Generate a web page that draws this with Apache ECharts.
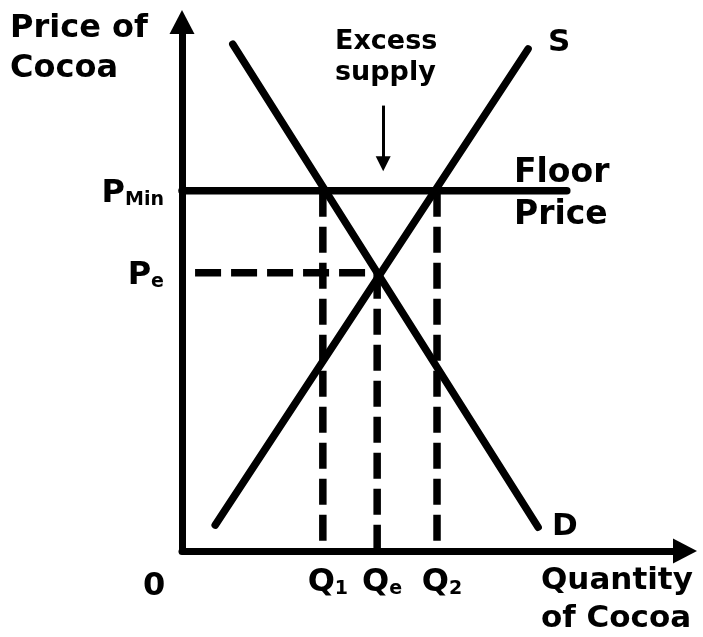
<!DOCTYPE html>
<html>
<head>
<meta charset="utf-8">
<script src="https://cdn.jsdelivr.net/npm/echarts@6/dist/echarts.min.js"></script>
<style>
  html, body { margin: 0; background: #fff; }
  #main { width: 703px; height: 637px; }
</style>
</head>
<body>
<div id="main"></div>
<script>
// values (quantity 0-100, price 0-100)
var demand = [[10.1, 95.8], [70.8, 4.5]]
var supply = [[6.6, 4.9], [68.8, 94.9]]
var pMin = 68.1
var pE = 52.6
var floorEnd = 76.5
var peStart = 2.6
var qValues = [28.0, 38.8, 50.7]
var qTops = [pMin, pE, pMin]
var qNames = ['1', 'e', '2']
var arrowPts = [[40.0, 84.2], [40.0, 73.2]]

var myChart = echarts.init(document.getElementById('main'))
var black = '#000'
var font = 'DejaVu Sans'

var solid = { color: black, width: 7.5, cap: 'round' }
var dashed = { color: black, width: 7.5, type: [26, 10] }

function lineSeries(data, style) {
  return {
    type: 'line',
    data: data,
    symbol: 'none',
    silent: true,
    clip: false,
    lineStyle: style,
  }
}

var series = []
series.push(lineSeries(demand, solid))
series.push(lineSeries(supply, solid))
series.push(lineSeries([[0, pMin], [floorEnd, pMin]], solid))
series.push(lineSeries([[peStart, pE], [qValues[1], pE]], dashed))
for (let i = 0; i < qValues.length; i++) {
  series.push(lineSeries([[qValues[i], qTops[i]], [qValues[i], 0]], dashed))
}

function tok(size, sub) {
  var t = { fontSize: size, fontWeight: 'bold', fontFamily: font, color: black }
  if (sub) t.verticalAlign = 'bottom'
  return t
}
var rich = {
  q: tok(32),
  qs: tok(19, true),
  p: tok(32),
  ps: tok(19, true),
  c: tok(31),
}

var labelData = [
  { value: [0, pMin], label: { position: 'left', distance: 18, offset: [0, 3], formatter: '{p|P}{ps|Min}' } },
  { value: [0, pE], label: { position: 'left', distance: 18, offset: [0, 3], formatter: '{p|P}{ps|e}' } },
  { value: supply[1], label: { position: 'right', distance: 20, offset: [0, -6], formatter: '{c|S}' } },
  { value: demand[1], label: { position: 'right', distance: 14, offset: [0, 0], formatter: '{c|D}' } },
]
for (let i = 0; i < qValues.length; i++) {
  labelData.push({
    value: [qValues[i], 0],
    label: { position: 'bottom', distance: 16, offset: [5, 0], formatter: '{q|Q}{qs|' + qNames[i] + '}' },
  })
}

series.push({
  type: 'scatter',
  symbolSize: 0,
  silent: true,
  clip: false,
  itemStyle: { color: 'transparent', opacity: 1 },
  label: { show: true, color: black, rich: rich },
  data: labelData,
  markLine: {
    silent: true,
    symbol: ['none', 'triangle'],
    symbolSize: 15,
    lineStyle: { color: black, width: 3, type: 'solid' },
    label: { show: false },
    data: [[{ coord: arrowPts[0] }, { coord: arrowPts[1] }]],
  },
})

function txt(text, left, top, size, lh, align) {
  return {
    type: 'text',
    left: left,
    top: top,
    style: {
      text: text,
      fontSize: size,
      fontWeight: 'bold',
      fontFamily: font,
      lineHeight: lh,
      fill: black,
      align: align || 'left',
    },
  }
}

var axisLine = {
  show: true,
  symbol: ['none', 'triangle'],
  symbolSize: [25, 24],
  lineStyle: { color: black, width: 7, cap: 'round' },
}

var option = {
  animation: false,
  backgroundColor: '#fff',
  grid: { left: 182, right: 18, top: 22, bottom: 86 },
  xAxis: {
    type: 'value', min: 0, max: 100,
    axisLine: axisLine,
    axisTick: { show: false }, axisLabel: { show: false }, splitLine: { show: false },
  },
  yAxis: {
    type: 'value', min: 0, max: 100,
    axisLine: axisLine,
    axisTick: { show: false }, axisLabel: { show: false }, splitLine: { show: false },
  },
  graphic: [
    txt('Price of\nCocoa', 10, 9, 32, 40),
    txt('Excess\nsupply', 335, 26, 27, 31),
    txt('Floor\nPrice', 514, 152, 33, 42),
    txt('0', 143, 567, 32, 40),
    txt('Quantity\nof Cocoa', 541, 562, 31, 38),
  ],
  series: series,
}

myChart.setOption(option)
</script>
</body>
</html>
